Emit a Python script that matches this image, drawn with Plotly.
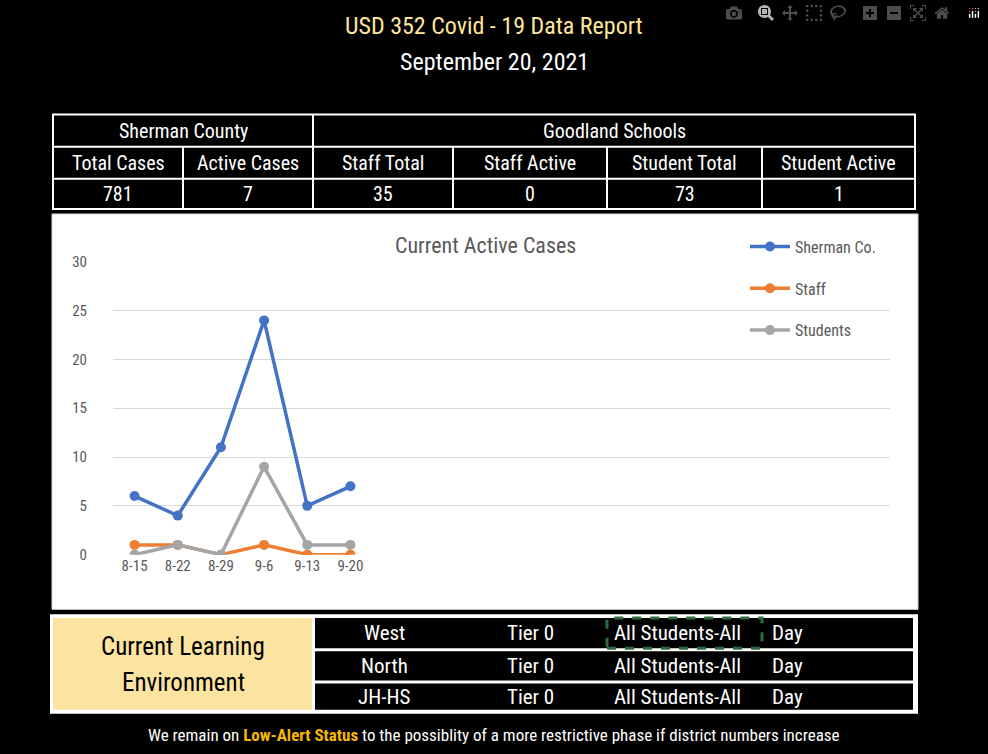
import plotly.graph_objects as go

W, H = 988, 754
dates = ["8-15", "8-22", "8-29", "9-6", "9-13", "9-20"]
sherman = [6, 4, 11, 24, 5, 7]
staff = [1, 1, 0, 1, 0, 0]
students = [0, 1, 0, 9, 1, 1]
series = [("Sherman Co.", sherman, "#4472C4"), ("Staff", staff, "#ED7D31"), ("Students", students, "#A5A5A5")]

hdr_top = ["Sherman County", "Goodland Schools"]
hdr_cols = ["Total Cases", "Active Cases", "Staff Total", "Staff Active", "Student Total", "Student Active"]
hdr_vals = ["781", "7", "35", "0", "73", "1"]
schools = ["West", "North", "JH-HS"]
tiers = ["Tier 0", "Tier 0", "Tier 0"]
modes = ["All Students-All", "All Students-All", "All Students-All"]

FONT = "Liberation Sans Narrow, Roboto Condensed, Roboto, sans-serif"
px = lambda x: x / W
py = lambda y: 1 - y / H

fig = go.Figure()
for name, vals, col in series:
    fig.add_trace(go.Scatter(x=list(range(len(dates))), y=vals, name=name, legendgroup=name,
                             mode="lines+markers", line=dict(color=col, width=3.5),
                             marker=dict(size=10, color=col)))

shapes, ann = [], []
def rect(x0, y0, x1, y1, fill=None, line=None, lw=2, dash=None, layer="below"):
    shapes.append(dict(type="rect", xref="paper", yref="paper", x0=px(x0), x1=px(x1), y0=py(y1), y1=py(y0),
                       fillcolor=fill or "rgba(0,0,0,0)", line=dict(color=line or "rgba(0,0,0,0)", width=lw if line else 0, dash=dash), layer=layer))
def text(x, y, s, size=20, color="white", anchor="center"):
    ann.append(dict(xref="paper", yref="paper", x=px(x), y=py(y), text=s, showarrow=False,
                    xanchor=anchor, yanchor="middle", font=dict(family=FONT, size=size, color=color)))

# Title
text(494, 17, "USD 352 Covid - 19 Data Report", 24, "#FFE699")
text(494, 54, "September 20, 2021", 24, "white")

# Top table
cx = [53, 183, 313, 453, 607, 762, 915]
rows = [108, 141, 174, 205]
rect(53, 108, 915, 205, line="white", lw=2)
for y in rows[1:3]:
    shapes.append(dict(type="line", xref="paper", yref="paper", x0=px(53), x1=px(915), y0=py(y), y1=py(y), line=dict(color="white", width=2)))
shapes.append(dict(type="line", xref="paper", yref="paper", x0=px(313), x1=px(313), y0=py(108), y1=py(205), line=dict(color="white", width=2)))
for x in cx[1:-1]:
    shapes.append(dict(type="line", xref="paper", yref="paper", x0=px(x), x1=px(x), y0=py(141), y1=py(205), line=dict(color="white", width=2)))
text(183, 125, hdr_top[0])
text(614, 125, hdr_top[1])
for i in range(6):
    m = (cx[i] + cx[i + 1]) / 2
    text(m, 158, hdr_cols[i])
    text(m, 190, hdr_vals[i])

# Chart panel
rect(52, 210, 918, 615, fill="white", line="#D9D9D9", lw=1)
text(485, 242, "Current Active Cases", 22, "#595959")

# Bottom table
rect(50, 620, 918, 722, fill="white")
rect(53, 624, 312, 718, fill="#FCE4A0")
text(183, 653, "Current Learning", 25, "black")
text(183, 690, "Environment", 25, "black")
for (y0, y1) in [(624, 655), (658, 688), (691, 718)]:
    rect(315, y0, 913, y1, fill="black")
for i, yc in enumerate([639, 673, 705]):
    text(384, yc, schools[i], 21)
    text(530, yc, tiers[i], 21)
    text(612, yc, modes[i], 21, anchor="left")
    text(770, yc, "Day", 21, anchor="left")
rect(607, 624, 762, 655, line="#2E6B3E", lw=3, dash="dash", layer="above")

# Footer
text(494, 744, "We remain on <b><span style='color:#F5B800'>Low-Alert Status</span></b> to the possiblity of a more restrictive phase if district numbers increase", 17)

fig.update_layout(
    width=W, height=H, margin=dict(l=0, r=0, t=0, b=0),
    paper_bgcolor="black", plot_bgcolor="white",
    shapes=shapes, annotations=ann, showlegend=True,
    legend=dict(x=px(745), y=py(226), xanchor="left", yanchor="top", bgcolor="rgba(0,0,0,0)",
                tracegroupgap=18, font=dict(family=FONT, size=16, color="#595959"), itemwidth=40),
    xaxis=dict(domain=[px(113), px(890)], range=[-0.5, 17.5], tickvals=list(range(6)), ticktext=dates,
               showgrid=False, zeroline=False, showline=False, tickfont=dict(family=FONT, size=15, color="#595959")),
    yaxis=dict(domain=[py(559), py(259)], range=[0, 30], dtick=5, gridcolor="#D9D9D9", zeroline=False,
               showline=False, tickfont=dict(family=FONT, size=15, color="#595959"), ticklabelstandoff=25),
)
fig.write_html("out.html", post_script="document.body.style.margin='0';document.body.style.overflow='hidden';document.body.style.background='black';")
